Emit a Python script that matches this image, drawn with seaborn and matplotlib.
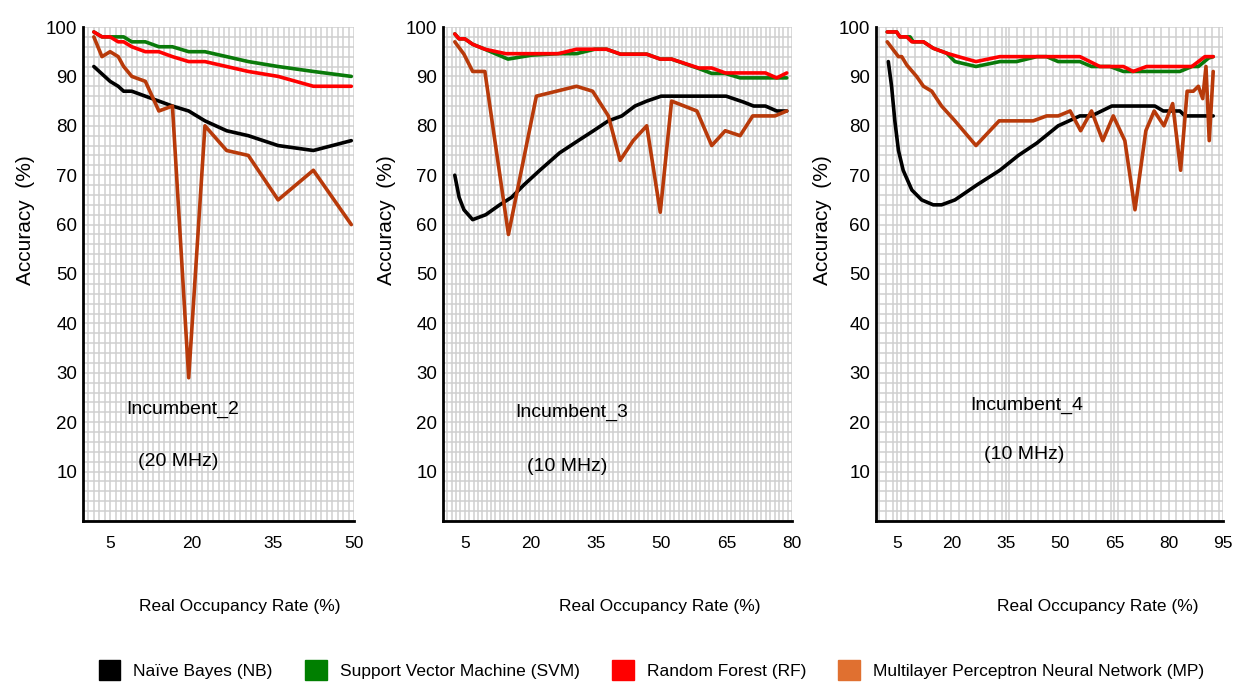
import matplotlib
matplotlib.use("Agg")
import numpy as np
import pandas as pd
import matplotlib.pyplot as plt
import seaborn as sns
from matplotlib.patches import Patch
from matplotlib.ticker import MultipleLocator

sns.set_style("white")
plt.rcParams["font.family"] = ["Liberation Sans Narrow", "Liberation Sans", "DejaVu Sans"]
plt.rcParams["text.color"] = "black"
plt.rcParams["axes.labelcolor"] = "black"
plt.rcParams["xtick.color"] = "black"
plt.rcParams["ytick.color"] = "black"

# ---------------- data ----------------
MODELS = ["Naïve Bayes (NB)", "Support Vector Machine (SVM)",
          "Random Forest (RF)", "Multilayer Perceptron Neural Network (MP)"]
LINE_COLORS = ["#000000", "#0a7a0a", "#ff0000", "#b83a0a"]
LEGEND_COLORS = ["#000000", "#007f00", "#ff0000", "#e07030"]

PANEL_TITLES = ["Incumbent_2", "Incumbent_3", "Incumbent_4"]
PANEL_BW = ["(20 MHz)", "(10 MHz)", "(10 MHz)"]
X_TICKS = [[5, 20, 35, 50], [5, 20, 35, 50, 65, 80], [5, 20, 35, 50, 65, 80, 95]]
Y_TICKS = [10, 20, 30, 40, 50, 60, 70, 80, 90, 100]

# Incumbent_2 (shared occupancy points)
p1_x = [2, 3.5, 5, 6.5, 7.5, 9, 11.5, 14, 16.5, 19.5, 22.5, 26.5, 30.5, 36, 42.5, 49.5]
p1_nb = [92, 90.5, 89, 88, 87, 87, 86, 85, 84, 83, 81, 79, 78, 76, 75, 77]
p1_svm = [99, 98, 98, 98, 98, 97, 97, 96, 96, 95, 95, 94, 93, 92, 91, 90]
p1_rf = [99, 98, 98, 97, 97, 96, 95, 95, 94, 93, 93, 92, 91, 90, 88, 88]
p1_mp = [98, 94, 95, 94, 92, 90, 89, 83, 84, 29, 80, 75, 74, 65, 71, 60]

# Incumbent_3
p2_nb_x = [2.7, 3.7, 4.8, 6.8, 9.8, 13, 15.7, 18.5, 22.2, 26.7, 31, 34.5, 37.9, 41, 44,
           46.7, 50, 61.6, 64.9, 68.9, 71.2, 73.9, 76.5, 78.8]
p2_nb = [70, 65.5, 63, 61, 62, 64, 65.5, 68, 71, 74.5, 77, 79, 81, 82, 84,
         85, 86, 86, 86, 84.8, 84, 84, 83, 83]
p2_svm_x = [2.7, 3.7, 5, 6.8, 9.6, 14.9, 20.3, 26.4, 30.6, 34.8, 37.5, 40.7, 46.7, 49.8,
            52.4, 58.6, 61.6, 64.7, 68.1, 78.8]
p2_svm = [98.6, 97.6, 97.6, 96.5, 95.5, 93.5, 94.3, 94.6, 94.6, 95.5, 95.5, 94.5, 94.5, 93.5,
          93.5, 91.6, 90.6, 90.6, 89.7, 89.7]
p2_rf_x = [2.7, 3.7, 5, 6.8, 9.6, 14.4, 20.3, 26.4, 30.6, 37.5, 40.7, 46.7, 49.8, 52.4,
           58.6, 61.6, 64.7, 73.9, 76.5, 78.8]
p2_rf = [98.6, 97.6, 97.6, 96.5, 95.5, 94.6, 94.6, 94.6, 95.5, 95.5, 94.5, 94.5, 93.5, 93.5,
         91.7, 91.7, 90.7, 90.7, 89.7, 90.7]
p2_mp_x = [2.7, 4.8, 6.8, 9.6, 15, 21.4, 26, 30.6, 34.3, 37.9, 40.6, 43.6, 46.7, 49.8,
           52.4, 58.2, 61.6, 64.7, 68.1, 71, 76.1, 78.8]
p2_mp = [97, 94.5, 91, 91, 58, 86, 87, 88, 87, 82, 73, 77, 80, 62.5,
         85, 83, 76, 79, 78, 82, 82, 83]

# Incumbent_4
p3_nb_x = [2.6, 3.5, 4.4, 5.4, 6.7, 9.1, 11.8, 15, 17.3, 21, 27, 33.4, 38.5, 43.6, 49.5,
           55.5, 58.7, 64.3, 76.2, 78.5, 83.1, 84.5, 92.3]
p3_nb = [93, 88, 81, 75, 71, 67, 65, 64, 64, 65, 68, 71, 74, 76.5, 80,
         82, 82, 84, 84, 83, 83, 82, 82]
p3_svm_x = [2.3, 4.9, 5.8, 8.6, 9.5, 12.3, 15, 18.7, 21, 26.8, 33.4, 38, 43.6, 46.3, 49.5,
            55.5, 58.7, 63.8, 67.5, 83.1, 86.4, 88.2, 91, 92.3]
p3_svm = [99, 99, 98, 98, 97, 97, 95.7, 94.7, 93, 92, 93, 93, 94, 94, 93,
          93, 92, 92, 91, 91, 92, 92, 93.7, 94]
p3_rf_x = [2.3, 4.9, 5.8, 7.7, 9.1, 12.3, 15, 18.7, 22.4, 26.8, 33.4, 55.5, 61, 67.5,
           70.2, 73.9, 86.4, 88.2, 90, 92.3]
p3_rf = [99, 99, 98, 98, 97, 97, 95.7, 94.7, 93.9, 93, 94, 94, 92, 92,
         91, 92, 92, 93, 94, 94]
p3_mp_x = [2.3, 5.4, 6.3, 7.7, 10.4, 12.3, 14.6, 17.3, 21, 26.8, 33.2, 42.6, 46.3, 49.5,
           52.8, 55.7, 58.7, 61.8, 64.7, 67.9, 70.7, 73.7, 76, 78.7, 81.1, 83.3, 85.1,
           86.8, 88.2, 89.4, 90.3, 91.2, 92.3]
p3_mp = [97, 94, 94, 92.3, 90, 88, 87, 84, 81, 76, 81, 81, 82, 82,
         83, 79, 83, 77, 82, 77, 63, 79, 83, 80, 84.5, 71, 87,
         87, 88, 85.5, 92, 77, 91]

PANELS = [
    [(p1_x, p1_nb), (p1_x, p1_svm), (p1_x, p1_rf), (p1_x, p1_mp)],
    [(p2_nb_x, p2_nb), (p2_svm_x, p2_svm), (p2_rf_x, p2_rf), (p2_mp_x, p2_mp)],
    [(p3_nb_x, p3_nb), (p3_svm_x, p3_svm), (p3_rf_x, p3_rf), (p3_mp_x, p3_mp)],
]

# ---------------- layout / style ----------------
W, H = 1236, 691
AX_RECTS = [(83, 354), (443, 792), (876, 1223)]
AX_TOP, AX_BOT = 27, 521
XLIMS = [(0, 50), (0, 80), (-0.8, 95)]
X_MINOR = [1, 1, 2]
YLABEL_OFF = [-57, -57, -53]
XLABEL_CX = [240, 660, 1098]
ANN_POS = [((18.4, 22.5), (17.5, 12.0)), ((29.4, 21.9), (28.4, 11.1)), ((40.9, 23.5), (40.0, 13.4))]

fig = plt.figure(figsize=(W / 100, H / 100), dpi=100)

for i, series in enumerate(PANELS):
    l, r = AX_RECTS[i]
    ax = fig.add_axes([l / W, 1 - AX_BOT / H, (r - l) / W, (AX_BOT - AX_TOP) / H])
    frames = []
    for m, (xs, ys) in zip(MODELS, series):
        frames.append(pd.DataFrame({"rate": xs, "acc": ys, "model": m}))
    df = pd.concat(frames, ignore_index=True)
    sns.lineplot(data=df, x="rate", y="acc", hue="model", hue_order=MODELS,
                 palette=LINE_COLORS, estimator=None, sort=False, lw=2.6,
                 legend=False, ax=ax)
    ax.set_xlim(*XLIMS[i])
    ax.set_ylim(0, 100)
    ax.set_xticks(X_TICKS[i])
    ax.set_yticks(Y_TICKS)
    ax.xaxis.set_minor_locator(MultipleLocator(X_MINOR[i]))
    ax.yaxis.set_minor_locator(MultipleLocator(2))
    ax.grid(which="both", color="#cfcfcf", lw=1.1)
    ax.set_axisbelow(True)
    for s in ["top", "right"]:
        ax.spines[s].set_visible(False)
    for s in ["left", "bottom"]:
        ax.spines[s].set_color("black")
        ax.spines[s].set_linewidth(2)
    ax.tick_params(axis="x", which="major", direction="inout", length=13, width=2,
                   labelsize=12.5, pad=4, color="black")
    ax.tick_params(axis="y", which="major", direction="inout", length=6.5, width=1.6,
                   labelsize=13.5, pad=1, color="black")
    ax.tick_params(which="minor", length=0)

    axw = r - l
    axh = AX_BOT - AX_TOP
    ax.set_ylabel("Accuracy  (%)", fontsize=15)
    ax.yaxis.label.set_va("center")
    ax.yaxis.set_label_coords(YLABEL_OFF[i] / axw, (AX_BOT - 220) / axh)
    ax.set_xlabel("Real Occupancy Rate (%)", fontsize=12.5)
    ax.xaxis.label.set_va("center")
    ax.xaxis.set_label_coords((XLABEL_CX[i] - l) / axw, (AX_BOT - 606) / axh)

    (tx, ty), (bx, by) = ANN_POS[i]
    ax.text(tx, ty, PANEL_TITLES[i], ha="center", va="center", fontsize=14)
    ax.text(bx, by, PANEL_BW[i], ha="center", va="center", fontsize=14)

handles = [Patch(facecolor=c, edgecolor=c) for c in LEGEND_COLORS]
fig.legend(handles, MODELS, loc="center", bbox_to_anchor=(0.527, 1 - 670 / H), ncol=4,
           frameon=False, fontsize=12.5, handlelength=1.26, handleheight=1.38,
           handletextpad=0.75, columnspacing=1.85)

fig.savefig("out.png", dpi=100)
